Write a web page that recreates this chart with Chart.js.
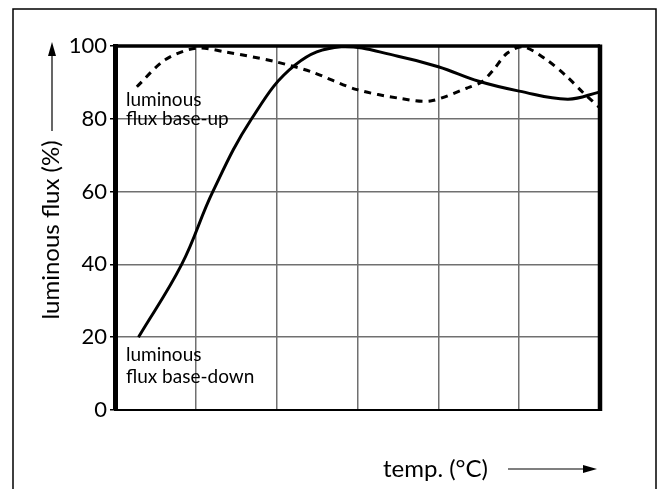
<!DOCTYPE html>
<html lang="en">
<head>
<meta charset="utf-8"/>
<title>Luminous flux vs temperature</title>
<script src="https://cdn.jsdelivr.net/npm/chart.js"></script>
<style>
  body { margin: 0; background: #fff; }
  #wrap { position: relative; width: 658px; height: 489px; }
</style>
</head>
<body>
<div id="wrap"><canvas id="fluxChart"></canvas></div>
<script>
  // values (x in grid columns 0..6, y in %)
  const downX = [0.29, 0.825, 1.21, 1.69, 2.23, 2.8, 3.5, 4.0, 4.5, 5.0, 5.6, 6.0];
  const downY = [20, 40, 60, 80, 94.8, 99.8, 97.2, 94.3, 90.3, 87.6, 85.4, 87.4];
  const upX = [0.27, 0.62, 1.0, 1.36, 1.98, 2.43, 2.98, 3.53, 3.9, 4.35, 4.54, 4.68, 4.85, 5.05, 5.34, 5.59, 5.8, 6.0];
  const upY = [88.8, 96.2, 99.4, 98.4, 95.7, 92.9, 88.1, 85.6, 84.9, 88.4, 90.2, 93.4, 98, 99.8, 96.2, 91.6, 87, 83];
  const yTicks = [0, 20, 40, 60, 80, 100];

  const font = 'Lato, "Open Sans", sans-serif';

  const toPts = (xs, ys) => xs.map((x, i) => ({ x: x, y: ys[i] }));

  const extras = {
    id: 'extras',
    afterDraw(chart) {
      const ctx = chart.ctx;
      const a = chart.chartArea;
      const xs = chart.scales.x, ys = chart.scales.y;
      ctx.save();
      ctx.strokeStyle = '#000';
      ctx.fillStyle = '#000';

      // heavy top and right frame of the plot
      ctx.lineWidth = 3.5;
      ctx.beginPath();
      ctx.moveTo(a.left - 2, a.top);
      ctx.lineTo(a.right, a.top);
      ctx.stroke();
      ctx.lineWidth = 4.5;
      ctx.beginPath();
      ctx.moveTo(a.right, a.top - 1.5);
      ctx.lineTo(a.right, a.bottom + 1);
      ctx.stroke();

      // outer box
      ctx.lineWidth = 1.5;
      ctx.beginPath();
      ctx.moveTo(13, 489);
      ctx.lineTo(13, 9);
      ctx.lineTo(656, 9);
      ctx.lineTo(656, 489);
      ctx.stroke();

      // series notes
      ctx.font = '19px ' + font;
      ctx.textAlign = 'left';
      ctx.textBaseline = 'alphabetic';
      const tx = xs.getPixelForValue(0.136);
      ctx.fillText('luminous', tx, ys.getPixelForValue(83.5));
      ctx.fillText('flux base-up', tx, ys.getPixelForValue(78.3));
      ctx.fillText('luminous', tx, ys.getPixelForValue(13.5));
      ctx.fillText('flux base-down', tx, ys.getPixelForValue(7.4));

      // y axis title with arrow
      ctx.font = '24px ' + font;
      ctx.save();
      ctx.translate(51, 230);
      ctx.rotate(-Math.PI / 2);
      ctx.textAlign = 'center';
      ctx.textBaseline = 'middle';
      ctx.fillText('luminous flux (%)', 0, 0);
      ctx.restore();
      ctx.lineWidth = 1.2;
      ctx.beginPath();
      ctx.moveTo(52, 131);
      ctx.lineTo(52, 52);
      ctx.stroke();
      ctx.beginPath();
      ctx.moveTo(52, 42);
      ctx.lineTo(48, 56);
      ctx.lineTo(56, 56);
      ctx.closePath();
      ctx.fill();

      // x axis title with arrow
      ctx.textAlign = 'left';
      ctx.textBaseline = 'middle';
      ctx.fillText('temp. (\u00B0C)', 383, 469);
      ctx.beginPath();
      ctx.moveTo(508, 469);
      ctx.lineTo(585, 469);
      ctx.stroke();
      ctx.beginPath();
      ctx.moveTo(597, 469);
      ctx.lineTo(583, 465);
      ctx.lineTo(583, 473);
      ctx.closePath();
      ctx.fill();

      ctx.restore();
    }
  };

  new Chart(document.getElementById('fluxChart'), {
    type: 'line',
    data: {
      datasets: [
        {
          label: 'luminous flux base-down',
          data: toPts(downX, downY),
          borderColor: '#000',
          borderWidth: 3,
          pointRadius: 0,
          tension: 0.4,
          fill: false
        },
        {
          label: 'luminous flux base-up',
          data: toPts(upX, upY),
          borderColor: '#000',
          borderWidth: 3,
          borderDash: [7, 6],
          pointRadius: 0,
          tension: 0.3,
          fill: false
        }
      ]
    },
    options: {
      responsive: true,
      maintainAspectRatio: false,
      animation: false,
      layout: { padding: { left: 0, top: 46, right: 58, bottom: 79 } },
      plugins: { legend: { display: false }, tooltip: { enabled: false } },
      scales: {
        x: {
          type: 'linear',
          min: 0,
          max: 6,
          ticks: { display: false, stepSize: 1 },
          grid: { color: '#707070', lineWidth: 1.5, drawTicks: false },
          border: { color: '#000', width: 2 },
          afterFit(s) { s.height = 0; }
        },
        y: {
          min: 0,
          max: 100,
          afterBuildTicks(s) { s.ticks = yTicks.map(v => ({ value: v })); },
          ticks: { color: '#000', padding: 3, font: { family: font, size: 22 } },
          grid: { color: '#707070', lineWidth: 1.5, tickLength: 5, tickColor: '#000' },
          border: { color: '#000', width: 5 },
          afterFit(s) { s.width = 115; }
        }
      }
    },
    plugins: [extras]
  });
</script>
</body>
</html>
